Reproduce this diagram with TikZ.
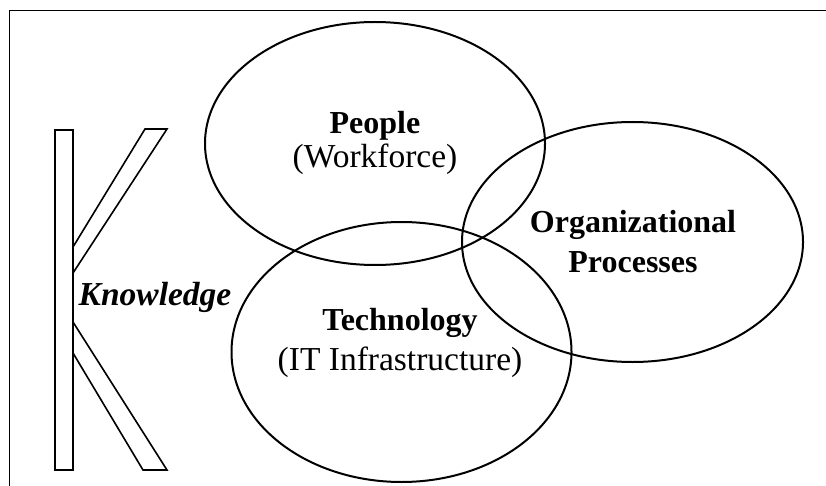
\documentclass[tikz,border=0pt]{standalone}
\usepackage{fontspec}
\setmainfont{Liberation Serif}

\tikzset{
    lbl/.style = {font=\fontsize{32}{37}\selectfont, inner sep=0pt},
    sub/.style = {font=\fontsize{33.5}{37}\selectfont, inner sep=0pt},
    ring/.style = {line width = 2pt},
}

\begin{document}
\begin{tikzpicture}[x=1pt, y=-1pt, line width = 1.6pt]
    \useasboundingbox (0,0) rectangle (826,486);

    \def \r {170pt};

    % frame
    \draw (9.5,495) |- (835,10.5);

    % K shape
    \draw (55,130) rectangle (73,470);
    \draw (73,247) -- (145,129) -- (167,129) -- (73,273);
    \draw (73,322) -- (167,470) -- (143,470) -- (73,353);

    % three rings
    \draw[ring] (375,143.5) ellipse [x radius=\r, y radius=121.5pt];
    \draw[ring] (401.5,352) ellipse [x radius=\r, y radius=130pt];
    \draw[ring] (632.5,242) ellipse [x radius=170.5pt, y radius=120pt];

    % labels
    \node[lbl] (people)    at (375,126) {\textbf{People}};
    \node[sub] (workforce) at (375,159) {(Workforce)};
    \node[lbl] (organiz)   at (633,225) {\textbf{Organizational}};
    \node[lbl] (processes) at (633,262) {\textbf{Processes}};
    \node[lbl] (technol)   at (400,323) {\textbf{Technology}};
    \node[sub] (infra)     at (400,362) {(IT Infrastructure)};
    \node[sub] (knowledge) at (155,297) {\textbf{\textit{Knowledge}}};

\end{tikzpicture}
\end{document}
